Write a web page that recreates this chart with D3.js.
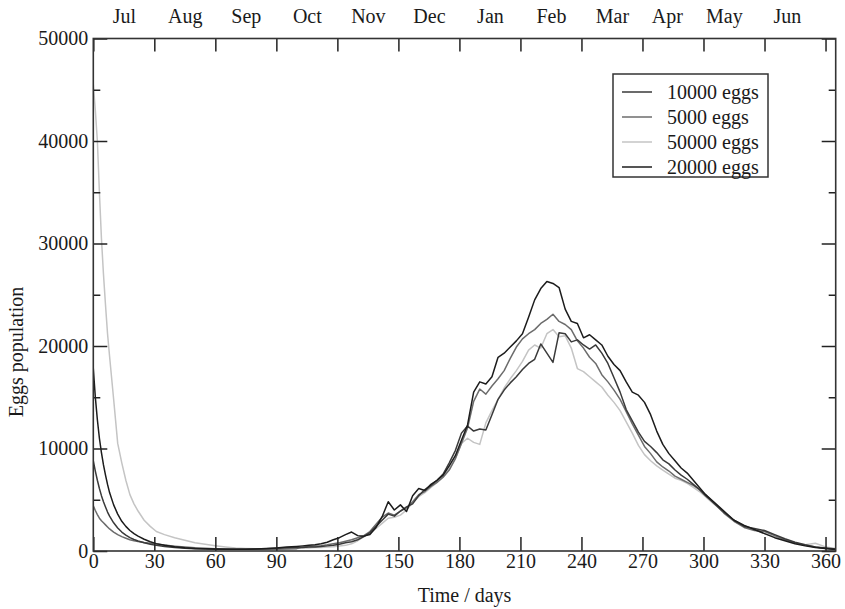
<!DOCTYPE html>
<html><head><meta charset="utf-8">
<script src="https://cdn.jsdelivr.net/npm/d3@7"></script>
<style>
html,body{margin:0;padding:0;background:#fff;}
svg text{font-family:"Liberation Serif","Times New Roman",serif;fill:#1a1a1a;}
</style></head>
<body>
<svg id="chart" width="845" height="609"></svg>
<script>
// ---- data ----
const days = [0,1,2,3,4,5,6,7,8,10,12,14,16,18,20,22,25,28,31,35,40,45,50,55,60,65,70,75,80,85,90,95,100,
  103,106,109,112,115,118,121,124,127,130,133,136,139,142,145,148,151,154,157,160,163,166,169,172,175,178,181,184,187,190,193,196,199,202,205,208,211,214,217,220,223,226,229,232,235,238,241,244,247,250,253,256,259,262,265,268,271,274,277,280,283,286,289,292,295,298,301,
  305,310,315,320,325,330,335,340,345,350,355,360,365];

const eggs10000 = [8800,7800,6900,6100,5400,4800,4300,3800,3400,2750,2250,1850,1550,1300,1120,980,800,660,550,440,340,270,220,190,170,160,160,170,190,220,260,310,350,
  350,380,400,450,500,560,650,800,900,1100,1400,1800,2400,3000,3600,3400,3900,4300,4600,5400,6000,6400,6900,7500,8600,9800,11500,12200,11700,11900,11800,13300,14800,15700,16400,17000,17700,18300,18700,20200,19300,18400,21300,21200,20400,20600,20100,19700,20100,19300,18300,16900,15500,13800,12700,11600,10700,10200,9600,8900,8500,7900,7400,7000,6500,6000,5400,
  4700,3800,3000,2400,2200,2000,1600,1200,850,600,400,300,200];

const eggs5000 = [4400,3950,3550,3200,2950,2750,2550,2350,2150,1850,1600,1400,1250,1100,1000,920,830,760,680,580,470,380,310,260,220,190,170,160,160,170,180,200,230,
  400,430,480,520,600,700,800,950,1100,1300,1500,1900,2600,3300,3700,3500,3900,4200,4800,5500,5800,6300,6700,7200,7900,9000,10500,12000,14600,15800,15300,16100,16800,17600,18800,19900,20700,21200,21600,22200,22600,23100,22400,22100,21600,20500,19800,18900,18300,17200,16500,15700,14800,13600,12400,11300,10200,9500,8700,8200,7800,7300,7000,6700,6400,6000,5500,
  4700,3700,2900,2300,2000,1900,1500,1100,800,550,400,250,150];

const eggs50000 = [45500,43000,40000,35000,30500,27000,24000,21200,19000,14800,10500,8600,6900,5500,4600,3900,3000,2400,1900,1600,1300,1050,800,650,520,400,300,250,220,200,200,220,250,
  300,300,330,350,380,420,480,550,700,1000,1400,1800,2200,2700,3200,3300,3500,4000,4700,5300,5700,6200,6700,7300,8000,9000,10500,11000,10600,10400,12500,13700,14800,15900,16800,17600,18500,19600,20100,19800,21200,21600,20900,21000,19800,17800,17500,17000,16500,16000,15200,14500,13700,12600,11500,10300,9400,8800,8300,7900,7500,7100,6900,6600,6200,5800,5300,
  4600,3800,3000,2500,2100,1700,1400,1100,750,600,750,400,250];

const eggs20000 = [17800,15000,12800,11000,9600,8400,7400,6500,5700,4500,3600,2900,2400,2000,1700,1450,1150,900,720,560,420,320,250,210,190,170,160,170,200,240,300,380,450,
  500,560,620,700,850,1100,1300,1600,1850,1500,1450,1600,2300,3350,4800,4000,4500,3850,5400,6100,5900,6500,6900,7400,8300,9300,10800,12300,15500,16500,16300,17000,18900,19300,19900,20500,21200,22800,24500,25600,26300,26100,25700,23600,22400,22200,20800,21100,20600,20100,19000,18200,17600,16500,15500,15200,14500,13300,11700,10400,9500,8800,8100,7600,6900,6200,5500,
  4800,3900,3000,2500,2100,1700,1300,1000,700,500,350,250,150];

const seriesNames = ["10000 eggs","5000 eggs","50000 eggs","20000 eggs"];
const seriesValues = [eggs10000, eggs5000, eggs50000, eggs20000];
const seriesColors = ["#3a3a3a","#6c6c6c","#c4c4c4","#1c1c1c"];

const xTicks = [0,30,60,90,120,150,180,210,240,270,300,330,360];
const yTicks = [0,10000,20000,30000,40000,50000];
const yMinorTicks = [5000,15000,25000,35000,45000];
const monthNames = ["Jul","Aug","Sep","Oct","Nov","Dec","Jan","Feb","Mar","Apr","May","Jun"];
const monthDays = [15,45,75,105,135,165,195,225,255,282,310,341];

// ---- layout ----
const svg = d3.select("#chart");
const L = 93.3, R = 835.7, T = 38.5, B = 551;
const x = d3.scaleLinear().domain([0,365]).range([L,R]);
const y = d3.scaleLinear().domain([0,50000]).range([B,T]);
const fs = 20;

svg.append("clipPath").attr("id","clip").append("rect")
  .attr("x",L).attr("y",T).attr("width",R-L).attr("height",B-T);
const line = d3.line().x((d,i)=>x(days[i])).y(d=>y(d));
const order = [2,1,0,3];
const g = svg.append("g").attr("clip-path","url(#clip)");
order.forEach(k=>{
  g.append("path").datum(seriesValues[k]).attr("d",line)
   .attr("fill","none").attr("stroke",seriesColors[k]).attr("stroke-width",1.5)
   .attr("stroke-linejoin","round");
});

function styleAxis(sel){
  sel.select(".domain").remove();
  sel.selectAll(".tick line").attr("stroke","#222").attr("stroke-width",1.5);
  sel.selectAll(".tick text").attr("font-size",fs).attr("fill","#1a1a1a")
     .attr("font-family","Liberation Serif, Times New Roman, serif");
}

svg.append("g").attr("transform",`translate(0,${B})`)
  .call(d3.axisBottom(x).tickValues(xTicks).tickSize(-14).tickPadding(3).tickFormat(d3.format("d")))
  .call(styleAxis);
svg.append("g").attr("transform",`translate(0,${T})`)
  .call(d3.axisTop(x).tickValues(xTicks).tickSize(-13).tickFormat(""))
  .call(styleAxis);
svg.append("g").attr("transform",`translate(0,${T})`)
  .call(d3.axisTop(x).tickValues(monthDays).tickSize(0).tickPadding(16).tickFormat((d,i)=>monthNames[i]))
  .call(styleAxis);
svg.append("g").attr("transform",`translate(${L},0)`)
  .call(d3.axisLeft(y).tickValues(yTicks).tickSize(-14).tickPadding(5).tickFormat(d3.format("d")))
  .call(styleAxis);
svg.append("g").attr("transform",`translate(${L},0)`)
  .call(d3.axisLeft(y).tickValues(yMinorTicks).tickSize(-7).tickFormat(""))
  .call(styleAxis);
svg.append("g").attr("transform",`translate(${R},0)`)
  .call(d3.axisRight(y).tickValues(yTicks).tickSize(-14).tickFormat(""))
  .call(styleAxis);
svg.append("g").attr("transform",`translate(${R},0)`)
  .call(d3.axisRight(y).tickValues(yMinorTicks).tickSize(-7).tickFormat(""))
  .call(styleAxis);

svg.append("rect").attr("x",L).attr("y",T).attr("width",R-L).attr("height",B-T)
  .attr("fill","none").attr("stroke","#333").attr("stroke-width",1.6);

svg.append("text").attr("x",(L+R)/2).attr("y",602).attr("text-anchor","middle")
  .attr("font-size",fs).text("Time / days");
svg.append("text").attr("transform",`translate(23,352) rotate(-90)`)
  .attr("text-anchor","middle").attr("font-size",fs).text("Eggs population");

const lg = svg.append("g");
lg.append("rect").attr("x",613).attr("y",74).attr("width",155).attr("height",103)
  .attr("fill","#fff").attr("stroke","#333").attr("stroke-width",1.5);
seriesNames.forEach((n,i)=>{
  const yy = 92 + i*25;
  lg.append("line").attr("x1",622).attr("x2",652).attr("y1",yy).attr("y2",yy)
    .attr("stroke",seriesColors[i]).attr("stroke-width",1.5);
  lg.append("text").attr("x",667).attr("y",yy).attr("dy","0.35em").attr("font-size",fs).text(n);
});
</script>
</body></html>
